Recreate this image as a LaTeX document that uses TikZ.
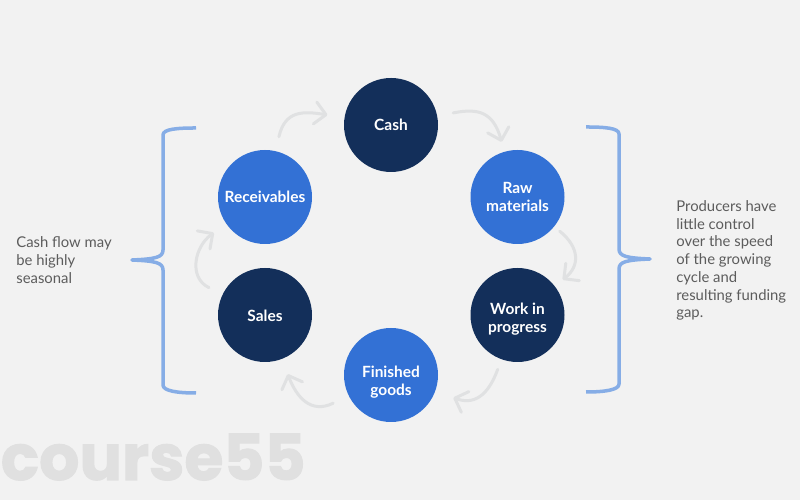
\documentclass[tikz,border=0pt]{standalone}
\usepackage{fontspec}
\setmainfont{Lato}
\newfontfamily\markfont[BoldFeatures={FakeBold=1.6}]{Poppins}
\usetikzlibrary{arrows.meta,positioning}
\definecolor{pagegrey}{HTML}{F2F2F2}
\definecolor{navy}{HTML}{132F5A}
\definecolor{midblue}{HTML}{3371D5}
\definecolor{braceblue}{HTML}{86ADE6}
\definecolor{flowgrey}{HTML}{E0E1E2}
\definecolor{notegrey}{HTML}{5C5C5C}
\definecolor{markgrey}{HTML}{E0E0E0}
\newcommand{\lowstrut}[1]{\rule{0pt}{#1}}
\tikzset{stage/.style={circle,text=white,minimum size=1.88cm,inner sep=0mm,align=center,font=\fontsize{8.8}{10.1}\selectfont\bfseries}}
\tikzset{darkstage/.style={stage,fill=navy}}
\tikzset{lightstage/.style={stage,fill=midblue}}
\tikzset{flow/.style={draw=flowgrey,line width=0.06cm,line cap=round,looseness=1.4,-{Straight Barb[length=2.2mm,width=4.4mm,round]}}}
\tikzset{bracket/.style={draw=braceblue,line width=0.07cm,line join=round}}
\tikzset{note/.style={anchor=west,inner sep=0mm,align=left,text=notegrey,font=\fontsize{8.45}{10.1}\selectfont}}

\begin{document}
\begin{tikzpicture}
    \fill[pagegrey] (0,0) rectangle (16,10);
    \useasboundingbox (0,0) rectangle (16,10);

    \node[anchor=base west,inner sep=0mm,text=markgrey,font=\fontsize{36}{36}\markfont\bfseries] (mark) at (0.01,0.4) {course55};

    \node[darkstage]  (cash)  at (7.82, 7.5)  {Cash};
    \node[lightstage] (raw)   at (10.35, 6.06) {Raw\\materials};
    \node[darkstage]  (work)  at (10.35, 3.7)  {\lowstrut{11pt}Work in\\progress};
    \node[lightstage] (fin)   at (7.82, 2.5)  {\lowstrut{15pt}Finished\\goods};
    \node[darkstage]  (sales) at (5.3, 3.7)   {\lowstrut{8pt}Sales};
    \node[lightstage] (rec)   at (5.3, 6.06)  {Receivables};

    \draw[flow,shorten <=0.32cm,shorten >=0.2cm]  (cash)  to[out=11,in=106]   (raw);
    \draw[flow,shorten <=0.14cm,shorten >=0.2cm]  (raw)   to[out=-39,in=38]   (work);
    \draw[flow,shorten <=0.21cm,shorten >=0.38cm] (work)  to[out=-110,in=-20] (fin);
    \draw[flow,shorten <=0.34cm,shorten >=0.32cm] (fin)   to[out=-154,in=-69] (sales);
    \draw[flow,shorten <=0.3cm,shorten >=0.3cm]   (sales) to[out=154,in=215]  (rec);
    \draw[flow,shorten <=0.29cm,shorten >=0.34cm] (rec)   to[out=77,in=171]   (cash);

    \draw[bracket] (3.92,7.44) .. controls (3.55,7.44) and (3.26,7.42) .. (3.26,7.3) -- (3.26,5.0)
        .. controls (3.26,4.85) and (3.1,4.82) .. (2.64,4.8) .. controls (3.1,4.78) and (3.26,4.75) .. (3.26,4.6)
        -- (3.26,2.3) .. controls (3.26,2.18) and (3.55,2.14) .. (3.92,2.14);
    \draw[bracket] (11.72,7.46) .. controls (12.09,7.46) and (12.38,7.44) .. (12.38,7.32) -- (12.38,5.02)
        .. controls (12.38,4.87) and (12.54,4.84) .. (13.0,4.82) .. controls (12.54,4.8) and (12.38,4.77) .. (12.38,4.62)
        -- (12.38,2.32) .. controls (12.38,2.2) and (12.09,2.16) .. (11.72,2.16);

    \node[note] (left)  at (0.32,4.8)  {Cash flow may\\be highly\\seasonal};
    \node[note] (right) at (13.52,4.79) {Producers have\\little control\\over the speed\\of the growing\\cycle and\\resulting funding\\gap.};
\end{tikzpicture}
\end{document}
